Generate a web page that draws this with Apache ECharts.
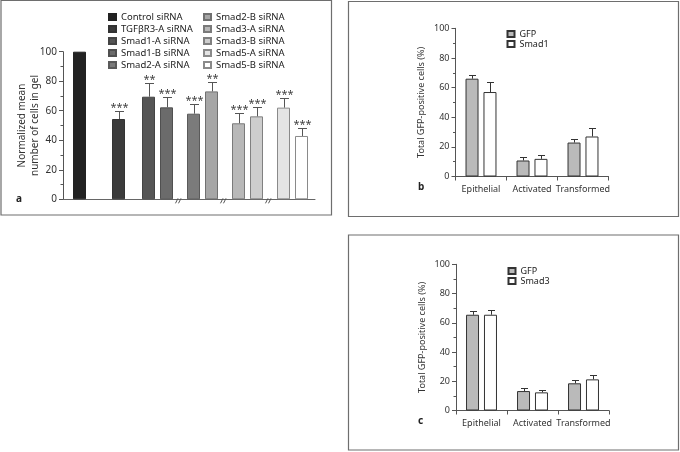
<!DOCTYPE html>
<html><head><meta charset="utf-8">
<script src="https://cdn.jsdelivr.net/npm/echarts@6/dist/echarts.min.js"></script>
<style>html,body{margin:0;padding:0;background:#fff}#c{width:680px;height:452px}</style>
</head><body><div id="c"></div><script>
// ---- data ----
const aNames = ['Control siRNA','TGFβR3-A siRNA','Smad1-A siRNA','Smad1-B siRNA','Smad2-A siRNA','Smad2-B siRNA','Smad3-A siRNA','Smad3-B siRNA','Smad5-A siRNA','Smad5-B siRNA'];
const aValues = [100, 54.4, 69.5, 62.3, 58, 73.1, 51.5, 56.2, 62.1, 42.9];
const aErrors = [0, 5.4, 9, 6.8, 6.3, 6.1, 7, 6.6, 6.8, 5.2];
const aSig = ['', '***', '**', '***', '***', '**', '***', '***', '***', '***'];
const aYTicks = [0, 20, 40, 60, 80, 100];
const bcCategories = ['Epithelial', 'Activated', 'Transformed'];
const bcYTicks = [0, 20, 40, 60, 80, 100];
const bGFP = [66, 10.8, 22.9];
const bGFPErr = [2.7, 2.2, 2.7];
const bSmad1 = [57, 11.9, 27];
const bSmad1Err = [6.6, 2.3, 5.4];
const cGFP = [65.5, 13.3, 18.6];
const cGFPErr = [2.4, 2.1, 2];
const cSmad3 = [65.5, 12.4, 21.3];
const cSmad3Err = [3, 1.6, 2.8];

// ---- layout (slot positions on panel a's fine category axis) ----
const nSlots = 84;
const aSlots = [5, 18, 28, 34, 43, 49, 58, 64, 73, 79];
const breakSlots = [38, 53, 68];
const aColors = ['#222222','#3b3b3b','#555555','#6b6b6b','#7b7b7b','#a6a6a6','#b8b8b8','#cdcdcd','#e4e4e4','#ffffff'];
const aBorders = ['#222222','#333333','#444444','#505050','#5a5a5a','#707070','#7a7a7a','#808080','#8a8a8a','#8a8a8a'];
const FONT = 'Noto Sans';

const chart = echarts.init(document.getElementById('c'));

function errRender(offset, half, color, sig) {
  return function (params, api) {
    const x = api.value(0), v = api.value(1), e = api.value(2);
    if (!e) return;
    const p0 = api.coord([x, v]);
    const p1 = api.coord([x, v + e]);
    const cx = Math.round(p0[0] + offset) + 0.5;
    const yTop = Math.round(p1[1]) + 0.5;
    const children = [
      {type: 'line', shape: {x1: cx, y1: p0[1], x2: cx, y2: yTop}, style: {stroke: color, lineWidth: 1}},
      {type: 'line', shape: {x1: cx - half, y1: yTop, x2: cx + half, y2: yTop}, style: {stroke: color, lineWidth: 1}}
    ];
    if (sig && sig[params.dataIndex]) {
      children.push({type: 'text', style: {text: sig[params.dataIndex], x: cx, y: yTop + 2, textAlign: 'center', textVerticalAlign: 'bottom', font: '11px "' + FONT + '"', fill: '#444'}});
    }
    return {type: 'group', children: children};
  };
}

function breakRender(params, api) {
  const p = api.coord([api.value(0), 0]);
  const x = Math.round(p[0]), y = p[1];
  return {type: 'group', children: [
    {type: 'line', shape: {x1: x - 3.5, y1: y + 4, x2: x - 1, y2: y - 1}, style: {stroke: '#555', lineWidth: 1}},
    {type: 'line', shape: {x1: x - 0.5, y1: y + 4, x2: x + 2, y2: y - 1}, style: {stroke: '#555', lineWidth: 1}}
  ]};
}

const series = [];
aNames.forEach((n, i) => {
  const d = new Array(nSlots).fill('-');
  d[aSlots[i]] = aValues[i];
  series.push({name: n, type: 'bar', xAxisIndex: 0, yAxisIndex: 0, data: d, barWidth: 13, barGap: '-100%',
    itemStyle: {color: aColors[i], borderColor: aBorders[i], borderWidth: 1}});
});
series.push({type: 'custom', xAxisIndex: 0, yAxisIndex: 0, z: 5,
  data: aValues.map((v, i) => [aSlots[i], v, aErrors[i]]),
  renderItem: errRender(0, 4.5, '#555', aSig)});
series.push({type: 'custom', xAxisIndex: 0, yAxisIndex: 0, z: 5,
  data: breakSlots.map(s => [s, 0]), renderItem: breakRender});

function addPanel(idx, names, vals, errs) {
  const fills = ['#bababa', '#ffffff'];
  names.forEach((n, k) => {
    series.push({name: n, type: 'bar', xAxisIndex: idx, yAxisIndex: idx, data: vals[k], barWidth: 13, barGap: '38%',
      itemStyle: {color: fills[k], borderColor: '#333', borderWidth: 1}});
    series.push({type: 'custom', xAxisIndex: idx, yAxisIndex: idx, z: 5,
      data: vals[k].map((v, i) => [i, v, errs[k][i]]),
      renderItem: errRender(k === 0 ? -9 : 9, 3.5, '#333')});
  });
}
addPanel(1, ['GFP', 'Smad1'], [bGFP, bSmad1], [bGFPErr, bSmad1Err]);
addPanel(2, ['GFP', 'Smad3'], [cGFP, cSmad3], [cGFPErr, cSmad3Err]);

function yAxis(gridIndex, ticks, name, nameGap, fs, nfs) {
  return {type: 'value', gridIndex, min: ticks[0], max: ticks[ticks.length - 1], interval: ticks[1] - ticks[0],
    name, nameLocation: 'middle', nameGap, nameRotate: 90, nameMoveOverlap: false,
    nameTextStyle: {fontFamily: FONT, fontSize: nfs, color: '#333', lineHeight: nfs + 3},
    axisLine: {show: true, lineStyle: {color: '#555', width: 1}},
    axisTick: {show: true, length: 4, lineStyle: {color: '#555'}},
    minorTick: {show: true, splitNumber: 2, length: 2.5, lineStyle: {color: '#555'}},
    splitLine: {show: false},
    axisLabel: {fontFamily: FONT, fontSize: fs, color: '#333', margin: 6}};
}

function catAxis(gridIndex) {
  return {type: 'category', gridIndex, data: bcCategories,
    axisLine: {lineStyle: {color: '#555'}}, axisTick: {show: true, length: 4, interval: 0, lineStyle: {color: '#555'}},
    axisLabel: {fontFamily: FONT, fontSize: 9, color: '#333', margin: 8, interval: 0}};
}

const option = {
  animation: false,
  backgroundColor: '#fff',
  grid: [
    {left: 63, top: 51.7, width: 252, height: 147.6},
    {left: 455.5, top: 28.3, width: 153, height: 148.2},
    {left: 456, top: 264.3, width: 153, height: 146.2}
  ],
  xAxis: [
    {type: 'category', gridIndex: 0, data: new Array(nSlots).fill(''),
      axisLine: {lineStyle: {color: '#666'}}, axisTick: {show: false}, axisLabel: {show: false}},
    catAxis(1),
    catAxis(2)
  ],
  yAxis: [
    yAxis(0, aYTicks, 'Normalized mean\nnumber of cells in gel', 21, 10, 10),
    yAxis(1, bcYTicks, 'Total GFP-positive cells (%)', 28, 9, 9),
    yAxis(2, bcYTicks, 'Total GFP-positive cells (%)', 28, 9, 9)
  ],
  legend: [
    {data: aNames.slice(0, 5), left: 108, top: 12, orient: 'vertical', itemWidth: 7, itemHeight: 6, itemGap: 2, padding: 0,
      icon: 'rect', selectedMode: false, textStyle: {fontFamily: FONT, fontSize: 9.5, color: '#222'}},
    {data: aNames.slice(5), left: 203, top: 12, orient: 'vertical', itemWidth: 7, itemHeight: 6, itemGap: 2, padding: 0,
      icon: 'rect', selectedMode: false, textStyle: {fontFamily: FONT, fontSize: 9.5, color: '#222'}},
    {data: ['GFP', 'Smad1'], left: 506.5, top: 29.5, orient: 'vertical', itemWidth: 7, itemHeight: 6, itemGap: 1, padding: 0,
      icon: 'rect', selectedMode: false, textStyle: {fontFamily: FONT, fontSize: 9, color: '#222'}},
    {data: ['GFP', 'Smad3'], left: 507.5, top: 266.5, orient: 'vertical', itemWidth: 7, itemHeight: 6, itemGap: 1, padding: 0,
      icon: 'rect', selectedMode: false, textStyle: {fontFamily: FONT, fontSize: 9, color: '#222'}}
  ],
  graphic: [
    {type: 'rect', shape: {x: 1, y: 0.5, width: 330.5, height: 214.5}, style: {fill: 'none', stroke: '#6e6e6e', lineWidth: 1.2}, silent: true, z: -1},
    {type: 'rect', shape: {x: 348.5, y: 1.5, width: 330, height: 215}, style: {fill: 'none', stroke: '#6e6e6e', lineWidth: 1.2}, silent: true, z: -1},
    {type: 'rect', shape: {x: 348.5, y: 235, width: 330, height: 215}, style: {fill: 'none', stroke: '#6e6e6e', lineWidth: 1.2}, silent: true, z: -1},
    {type: 'text', left: 16, top: 194, style: {text: 'a', font: 'bold 10px "' + FONT + '"', fill: '#222'}},
    {type: 'text', left: 418, top: 182, style: {text: 'b', font: 'bold 10px "' + FONT + '"', fill: '#222'}},
    {type: 'text', left: 418, top: 416, style: {text: 'c', font: 'bold 10px "' + FONT + '"', fill: '#222'}}
  ],
  series
};
chart.setOption(option);
</script></body></html>
